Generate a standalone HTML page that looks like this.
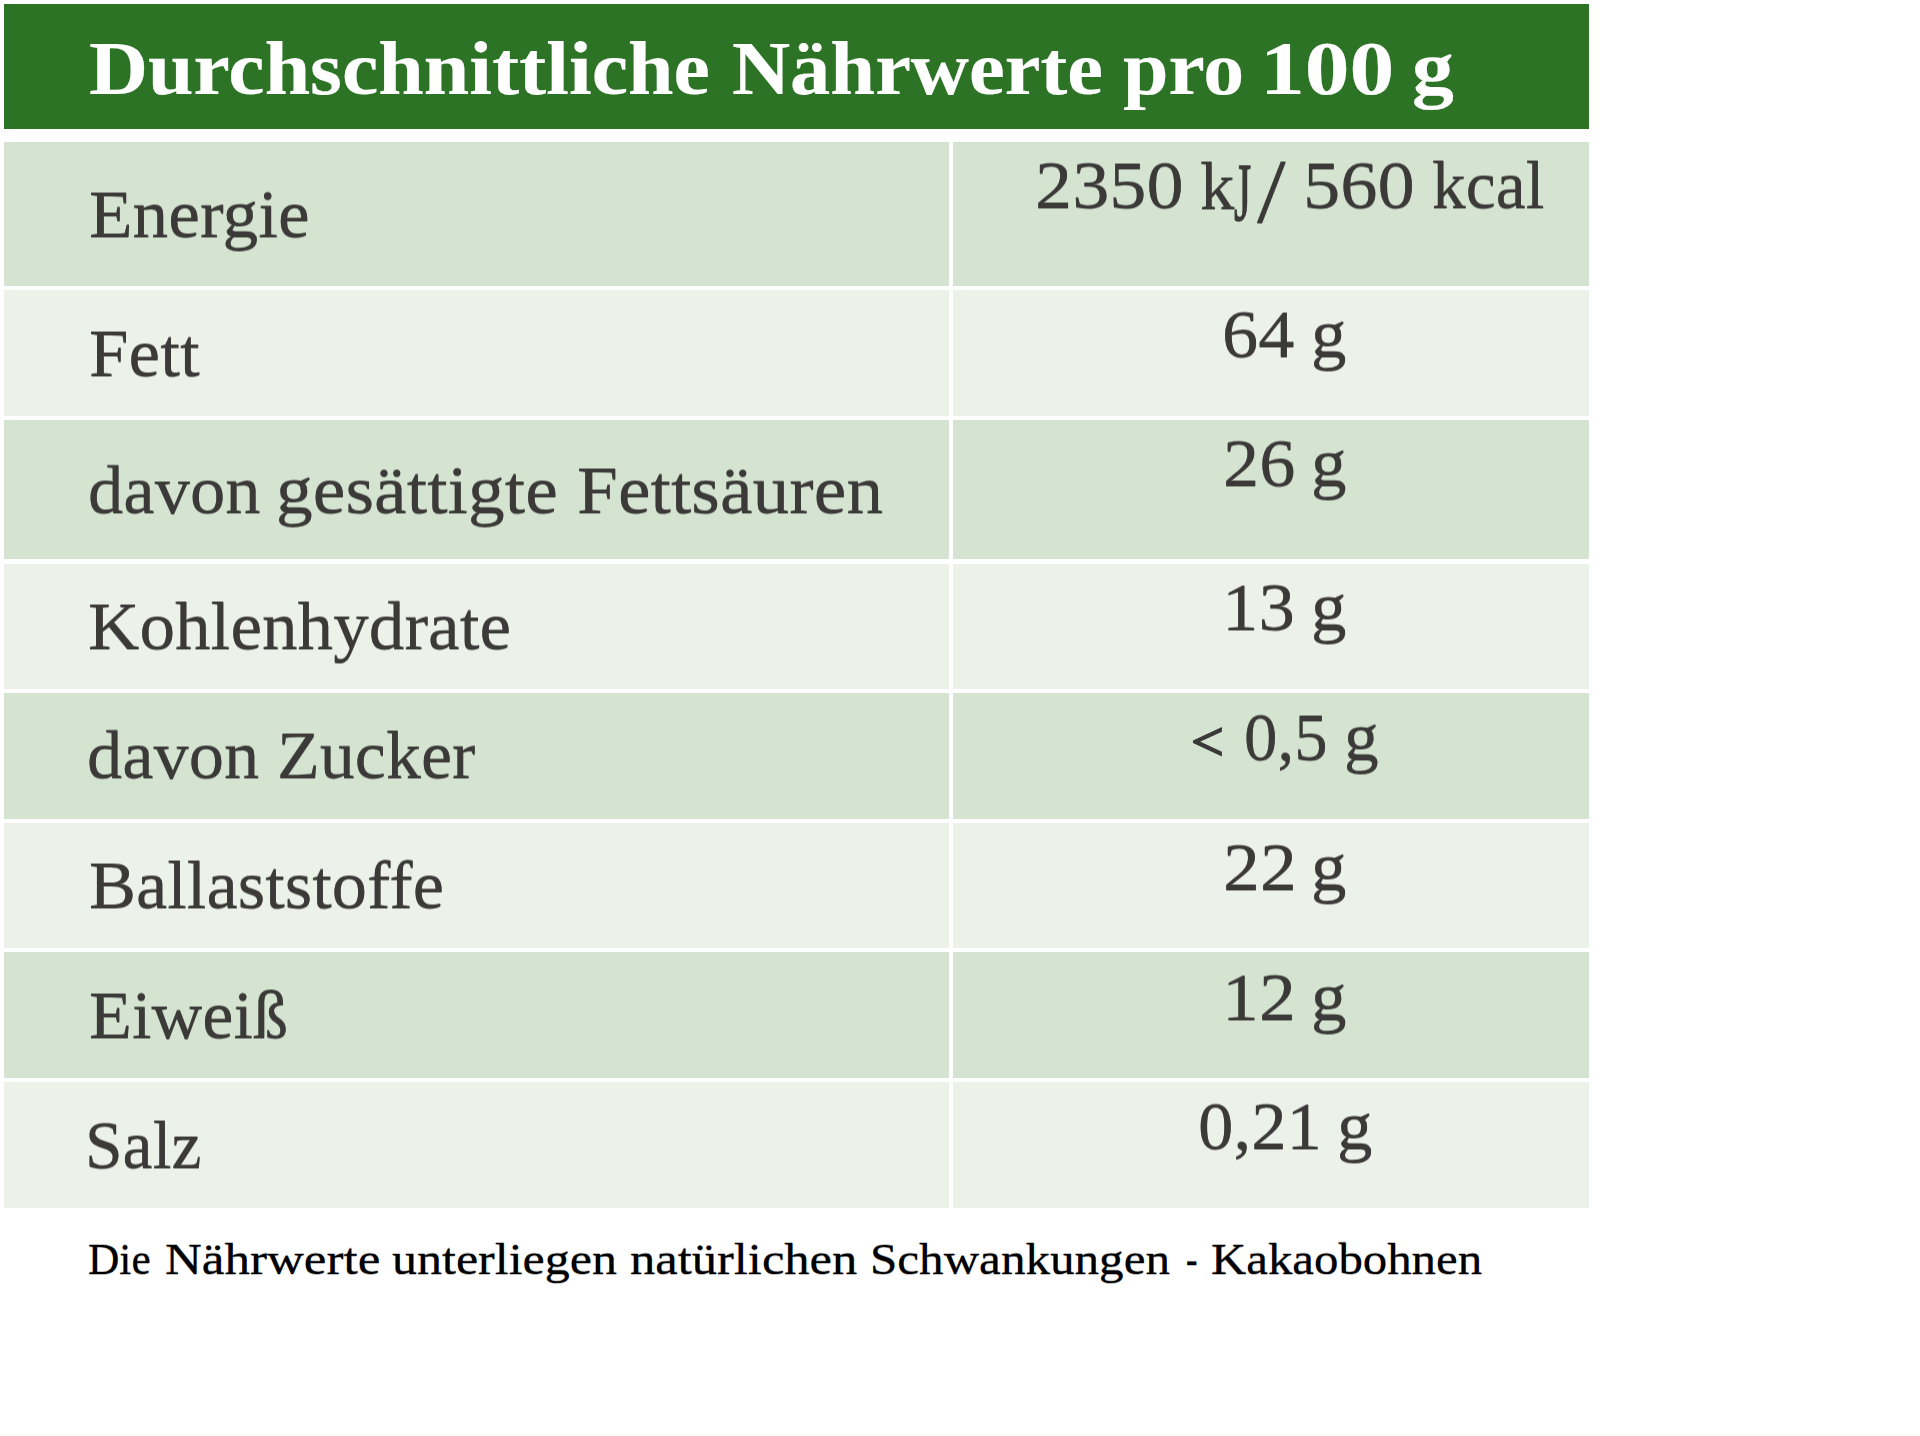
<!DOCTYPE html>
<html lang="de">
<head>
<meta charset="utf-8">
<title>Durchschnittliche Nährwerte pro 100 g</title>
<style>
html,body{margin:0;padding:0;background:#fff;}
body{width:1920px;height:1436px;position:relative;overflow:hidden;font-family:"Liberation Serif",serif;}
.r{position:absolute;margin:0;padding:0;}
.w{position:absolute;white-space:pre;line-height:1;transform-origin:0 0;margin:0;padding:0;}
.hd{background:#2c7325;color:#fff;font-weight:bold;}
.hd .w{font-size:76.3px;-webkit-text-stroke:0.2px #fff;}
.c1{background:#d5e4d1;}
.c2{background:#ecf1ea;}
.c1,.c2{color:#3b3a39;}
.lb .w{font-size:68.6px;text-shadow:0 1px 0 rgba(59,58,57,.45),0 -1px 0 rgba(59,58,57,.45);}
.vl .w{font-size:67.6px;text-shadow:0 1px 0 rgba(59,58,57,.45),0 -1px 0 rgba(59,58,57,.45);}
.ft{color:#000;}
.ft .w{font-size:45.0px;-webkit-text-stroke:0.2px #000;text-shadow:0 1px 0 rgba(0,0,0,.25),0 -1px 0 rgba(0,0,0,.25);}
</style>
</head>
<body>
<h1 class="r hd" style="left:4px;top:4px;width:1585px;height:124.5px"><span class="w" id="w0" style="left:85.26px;top:26.61px;transform:scaleX(1.0717)">Durchschnittliche</span> <span class="w" id="w1" style="left:727.57px;top:26.61px;transform:scaleX(1.0549)">Nährwerte</span> <span class="w" id="w2" style="left:1119.18px;top:26.61px;transform:scaleX(1.0717)">pro</span> <span class="w" id="w3" style="left:1256px;top:26.61px;transform:scaleX(1.1732)">100</span> <span class="w" id="w4" style="left:1407.95px;top:26.61px;transform:scaleX(1.0966)">g</span></h1>
<div class="row">
<div class="r c1 lb" style="left:4px;top:141.5px;width:945px;height:144.5px"><span class="w" id="w5" style="left:84.54px;top:38.55px;transform:scaleX(1.0409)">Energie</span></div>
<div class="r c1 vl" style="left:953px;top:141.5px;width:636px;height:144.5px"><span class="w" id="w16" style="left:81.73px;top:10.89px;transform:scaleX(1.0996)">2350</span> <span class="w" id="w17" style="left:246.92px;top:11.09px;transform:scaleX(1.0201)">k</span><span class="w" id="w18" style="left:281.32px;top:9.36px;-webkit-text-stroke:0.8px #3b3a39;transform:scale(0.6528,1.2302)">J</span><span class="w" id="w19" style="left:304.02px;top:4.85px;transform:scale(1.5275,1.3550)">/</span> <span class="w" id="w20" style="left:349.63px;top:10.89px;transform:scaleX(1.1038)">560</span> <span class="w" id="w21" style="left:479.15px;top:10.89px;transform:scaleX(0.9995)">kcal</span></div>
</div>
<div class="row">
<div class="r c2 lb" style="left:4px;top:290px;width:945px;height:126px"><span class="w" id="w6" style="left:84.84px;top:28.8px;transform:scaleX(1.0375)">Fett</span></div>
<div class="r c2 vl" style="left:953px;top:290px;width:636px;height:126px"><span class="w" id="w22" style="left:269.39px;top:11.49px;transform:scaleX(1.0726)">64</span> <span class="w" id="w23" style="left:357.57px;top:11.49px;transform:scaleX(1.0512)">g</span></div>
</div>
<div class="row">
<div class="r c1 lb" style="left:4px;top:420px;width:945px;height:139.2px"><span class="w" id="w7" style="left:83.79px;top:36.3px;transform:scaleX(1.0291)">davon</span> <span class="w" id="w8" style="left:272.4px;top:36.3px;transform:scaleX(1.0725)">gesättigte</span> <span class="w" id="w9" style="left:572.87px;top:36.3px;transform:scaleX(1.0717)">Fettsäuren</span></div>
<div class="r c1 vl" style="left:953px;top:420px;width:636px;height:139.2px"><span class="w" id="w24" style="left:269.96px;top:10.39px;transform:scaleX(1.0710)">26</span> <span class="w" id="w25" style="left:357.7px;top:10.39px;transform:scaleX(1.0537)">g</span></div>
</div>
<div class="row">
<div class="r c2 lb" style="left:4px;top:563.5px;width:945px;height:125.5px"><span class="w" id="w10" style="left:84.47px;top:28.55px;transform:scaleX(1.0380)">Kohlenhydrate</span></div>
<div class="r c2 vl" style="left:953px;top:563.5px;width:636px;height:125.5px"><span class="w" id="w26" style="left:268.99px;top:10.89px;transform:scaleX(1.0791)">13</span> <span class="w" id="w27" style="left:357.57px;top:10.89px;transform:scaleX(1.0512)">g</span></div>
</div>
<div class="row">
<div class="r c1 lb" style="left:4px;top:693px;width:945px;height:125.6px"><span class="w" id="w11" style="left:83.07px;top:28.3px;transform:scaleX(1.0280)">davon</span> <span class="w" id="w12" style="left:273.19px;top:28.3px;transform:scaleX(1.0216)">Zucker</span></div>
<div class="r c1 vl" style="left:953px;top:693px;width:636px;height:125.6px"><span class="w" id="w28" style="left:238.12px;top:21.05px;-webkit-text-stroke:2.2px #3b3a39;text-shadow:none;transform:scale(0.8618,0.8251)">&lt;</span> <span class="w" id="w29" style="left:290.51px;top:11.19px;transform:scaleX(0.9888)">0,5</span> <span class="w" id="w30" style="left:391.36px;top:11.19px;transform:scaleX(1.0276)">g</span></div>
</div>
<div class="row">
<div class="r c2 lb" style="left:4px;top:823px;width:945px;height:125px"><span class="w" id="w13" style="left:84.79px;top:28.3px;transform:scaleX(1.0275)">Ballaststoffe</span></div>
<div class="r c2 vl" style="left:953px;top:823px;width:636px;height:125px"><span class="w" id="w31" style="left:270.27px;top:11.09px;transform:scaleX(1.0928)">22</span> <span class="w" id="w32" style="left:357.57px;top:11.09px;transform:scaleX(1.0512)">g</span></div>
</div>
<div class="row">
<div class="r c1 lb" style="left:4px;top:952.2px;width:945px;height:125.8px"><span class="w" id="w14" style="left:84.88px;top:29.1px;transform:scaleX(1.0254)">Eiweiß</span></div>
<div class="r c1 vl" style="left:953px;top:952.2px;width:636px;height:125.8px"><span class="w" id="w33" style="left:268.54px;top:11.59px;transform:scaleX(1.0927)">12</span> <span class="w" id="w34" style="left:357.7px;top:11.59px;transform:scaleX(1.0537)">g</span></div>
</div>
<div class="row">
<div class="r c2 lb" style="left:4px;top:1082px;width:945px;height:126.2px"><span class="w" id="w15" style="left:81.43px;top:29.3px;transform:scaleX(0.9859)">Salz</span></div>
<div class="r c2 vl" style="left:953px;top:1082px;width:636px;height:126.2px"><span class="w" id="w35" style="left:244.84px;top:11.09px;transform:scaleX(1.0487)">0,21</span> <span class="w" id="w36" style="left:384.21px;top:11.09px;transform:scaleX(1.0493)">g</span></div>
</div>
<p class="r ft" style="left:0px;top:1225px;width:1589px;height:70px"><span class="w" id="w37" style="left:87.95px;top:11.82px;transform:scaleX(0.9640)">Die</span> <span class="w" id="w38" style="left:164.83px;top:11.82px;transform:scaleX(1.1339)">Nährwerte</span> <span class="w" id="w39" style="left:391.85px;top:11.82px;transform:scaleX(1.1113)">unterliegen</span> <span class="w" id="w40" style="left:630.14px;top:11.82px;transform:scaleX(1.1228)">natürlichen</span> <span class="w" id="w41" style="left:870.34px;top:11.82px;transform:scaleX(1.0910)">Schwankungen</span> <span class="w" id="w42" style="left:1185.99px;top:11.82px;transform:scaleX(0.7647)">-</span> <span class="w" id="w43" style="left:1210.5px;top:11.82px;transform:scaleX(1.0846)">Kakaobohnen</span></p>
</body>
</html>
